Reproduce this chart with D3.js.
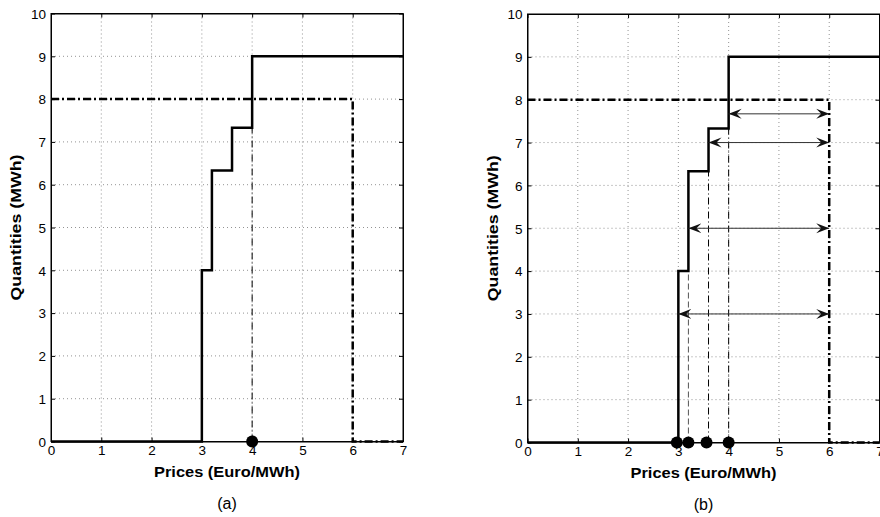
<!DOCTYPE html>
<html>
<head>
	<meta charset="utf-8">
	<title>Supply and demand steps</title>
	<style>
		body { margin: 0; background: #fff; }
		text { font-family: "Liberation Sans", Arial, sans-serif; }
	</style>
</head>
<body>
	<script src="https://cdn.jsdelivr.net/npm/d3@7"></script>
	<script>
// supply curve: price where each step starts, quantity after the step
var stepPrices = [0, 3, 3.2, 3.6, 4, 7];
var stepQuantities = [0, 4, 6.33, 7.33, 9, 9];

// demand curve (dash-dot)
var demandPrices = [0, 6, 6, 7];
var demandQuantities = [8, 8, 0, 0];

// panel (a)
var guideA = [{x: 4, top: 7.33}];
var dotsA = [4];

// panel (b)
var guideB = [{x: 3.2, top: 4, dash: '6,3'}, {x: 3.6, top: 6.33}, {x: 4, top: 7.33}];
var dotsB = [2.97, 3.2, 3.56, 4];
var arrowY = [7.67, 7, 5, 3];
var arrowFrom = [4, 3.6, 3.2, 3];
var arrowTo = 6;

var xTicks = [0, 1, 2, 3, 4, 5, 6, 7];
var yTicks = [0, 1, 2, 3, 4, 5, 6, 7, 8, 9, 10];

var svg = d3.select('body').append('svg')
			.attr('width', 880)
			.attr('height', 517);

svg.append('defs').append('marker')
	.attr('id', 'head')
	.attr('viewBox', '-13 -6 15 12')
	.attr('markerWidth', 15)
	.attr('markerHeight', 12)
	.attr('refX', 0)
	.attr('refY', 0)
	.attr('markerUnits', 'userSpaceOnUse')
	.attr('orient', 'auto-start-reverse')
	.append('path')
	.attr('d', 'M0,0 L-13,-5 L-8,0 L-13,5 Z')
	.attr('fill', '#111');

function drawPanel(left, right, top, bottom, label, guides, dots, arrows) {
	var x = d3.scaleLinear().domain([0, 7]).range([left, right]);
	var y = d3.scaleLinear().domain([0, 10]).range([bottom, top]);
	var g = svg.append('g');

	// grid
	g.selectAll('.gx').data(xTicks.slice(1, -1)).enter().append('line')
		.attr('x1', function(d) { return x(d); }).attr('x2', function(d) { return x(d); })
		.attr('y1', top).attr('y2', bottom)
		.attr('stroke', '#777').attr('stroke-width', 0.8).attr('stroke-dasharray', '1,3');
	g.selectAll('.gy').data(yTicks.slice(1, -1)).enter().append('line')
		.attr('y1', function(d) { return y(d); }).attr('y2', function(d) { return y(d); })
		.attr('x1', left).attr('x2', right)
		.attr('stroke', '#777').attr('stroke-width', 0.8).attr('stroke-dasharray', '1,3');

	// axes, ticks inside like matlab
	var fmt = d3.format('d');
	var ax = g.append('g').attr('transform', 'translate(0,' + bottom + ')')
		.call(d3.axisBottom(x).tickValues(xTicks).tickFormat(fmt).tickSizeInner(-4).tickSizeOuter(0).tickPadding(8));
	var ay = g.append('g').attr('transform', 'translate(' + left + ',0)')
		.call(d3.axisLeft(y).tickValues(yTicks).tickFormat(fmt).tickSizeInner(-4).tickSizeOuter(0).tickPadding(5));
	g.append('g').attr('transform', 'translate(0,' + top + ')')
		.call(d3.axisTop(x).tickValues(xTicks).tickSizeInner(-4).tickSizeOuter(0).tickFormat(''));
	g.append('g').attr('transform', 'translate(' + right + ',0)')
		.call(d3.axisRight(y).tickValues(yTicks).tickSizeInner(-4).tickSizeOuter(0).tickFormat(''));
	g.selectAll('.domain').attr('stroke', '#000');
	g.selectAll('.tick text').attr('font-size', 13.5).attr('fill', '#000')
		.attr('font-family', '"Liberation Sans", Arial, sans-serif');
	ax.selectAll('.tick text').attr('dy', '0.42em');
	ay.selectAll('.tick text').attr('dy', '0.36em');
	g.append('rect').attr('x', left).attr('y', top)
		.attr('width', right - left).attr('height', bottom - top)
		.attr('fill', 'none').attr('stroke', '#000').attr('stroke-width', 1);

	// guide lines from dots up to the steps
	g.selectAll('.guide').data(guides).enter().append('line')
		.attr('x1', function(d) { return x(d.x); }).attr('x2', function(d) { return x(d.x); })
		.attr('y1', y(0)).attr('y2', function(d) { return y(d.top); })
		.attr('stroke', function(d) { return d.dash ? '#555' : '#000'; })
		.attr('stroke-width', 1)
		.attr('stroke-dasharray', function(d) { return d.dash || '7,3,1,3'; });

	// demand
	var demand = d3.line()
		.x(function(d) { return x(d[0]); })
		.y(function(d) { return y(d[1]); });
	g.append('path')
		.attr('d', demand(d3.zip(demandPrices, demandQuantities)))
		.attr('fill', 'none').attr('stroke', '#000').attr('stroke-width', 2.5)
		.attr('stroke-dasharray', '8,3,2,3');

	// supply
	var supply = d3.line()
		.curve(d3.curveStepAfter)
		.x(function(d) { return x(d[0]); })
		.y(function(d) { return y(d[1]); });
	g.append('path')
		.attr('d', supply(d3.zip(stepPrices, stepQuantities)))
		.attr('fill', 'none').attr('stroke', '#000').attr('stroke-width', 2.5);

	// arrows
	g.selectAll('.arrow').data(arrows).enter().append('line')
		.attr('x1', function(d) { return x(d.from); }).attr('x2', function(d) { return x(d.to); })
		.attr('y1', function(d) { return y(d.y); }).attr('y2', function(d) { return y(d.y); })
		.attr('stroke', '#333').attr('stroke-width', 1)
		.attr('marker-start', 'url(#head)').attr('marker-end', 'url(#head)');

	// dots
	g.selectAll('.dot').data(dots).enter().append('circle')
		.attr('cx', function(d) { return x(d); }).attr('cy', y(0))
		.attr('r', 6).attr('fill', '#000');

	var cx = (left + right) / 2;
	g.append('text').attr('x', cx).attr('y', bottom + 35)
		.attr('text-anchor', 'middle').attr('font-size', 15).attr('font-weight', 'bold')
		.attr('textLength', 146).attr('lengthAdjust', 'spacingAndGlyphs')
		.text('Prices (Euro/MWh)');
	g.append('text')
		.attr('transform', 'translate(' + (left - 30) + ',' + ((top + bottom) / 2) + ') rotate(-90)')
		.attr('text-anchor', 'middle').attr('font-size', 15).attr('font-weight', 'bold')
		.attr('textLength', 146).attr('lengthAdjust', 'spacingAndGlyphs')
		.text('Quantities (MWh)');
	g.append('text').attr('x', cx).attr('y', bottom + 67)
		.attr('text-anchor', 'middle').attr('font-size', 16)
		.text(label);
}

drawPanel(51, 403, 13.5, 441.5, '(a)', guideA, dotsA, []);

var arrowsB = arrowY.map(function(v, i) { return {y: v, from: arrowFrom[i], to: arrowTo}; });
drawPanel(527.5, 879.5, 14, 442.5, '(b)', guideB, dotsB, arrowsB);

	</script>
</body>
</html>
